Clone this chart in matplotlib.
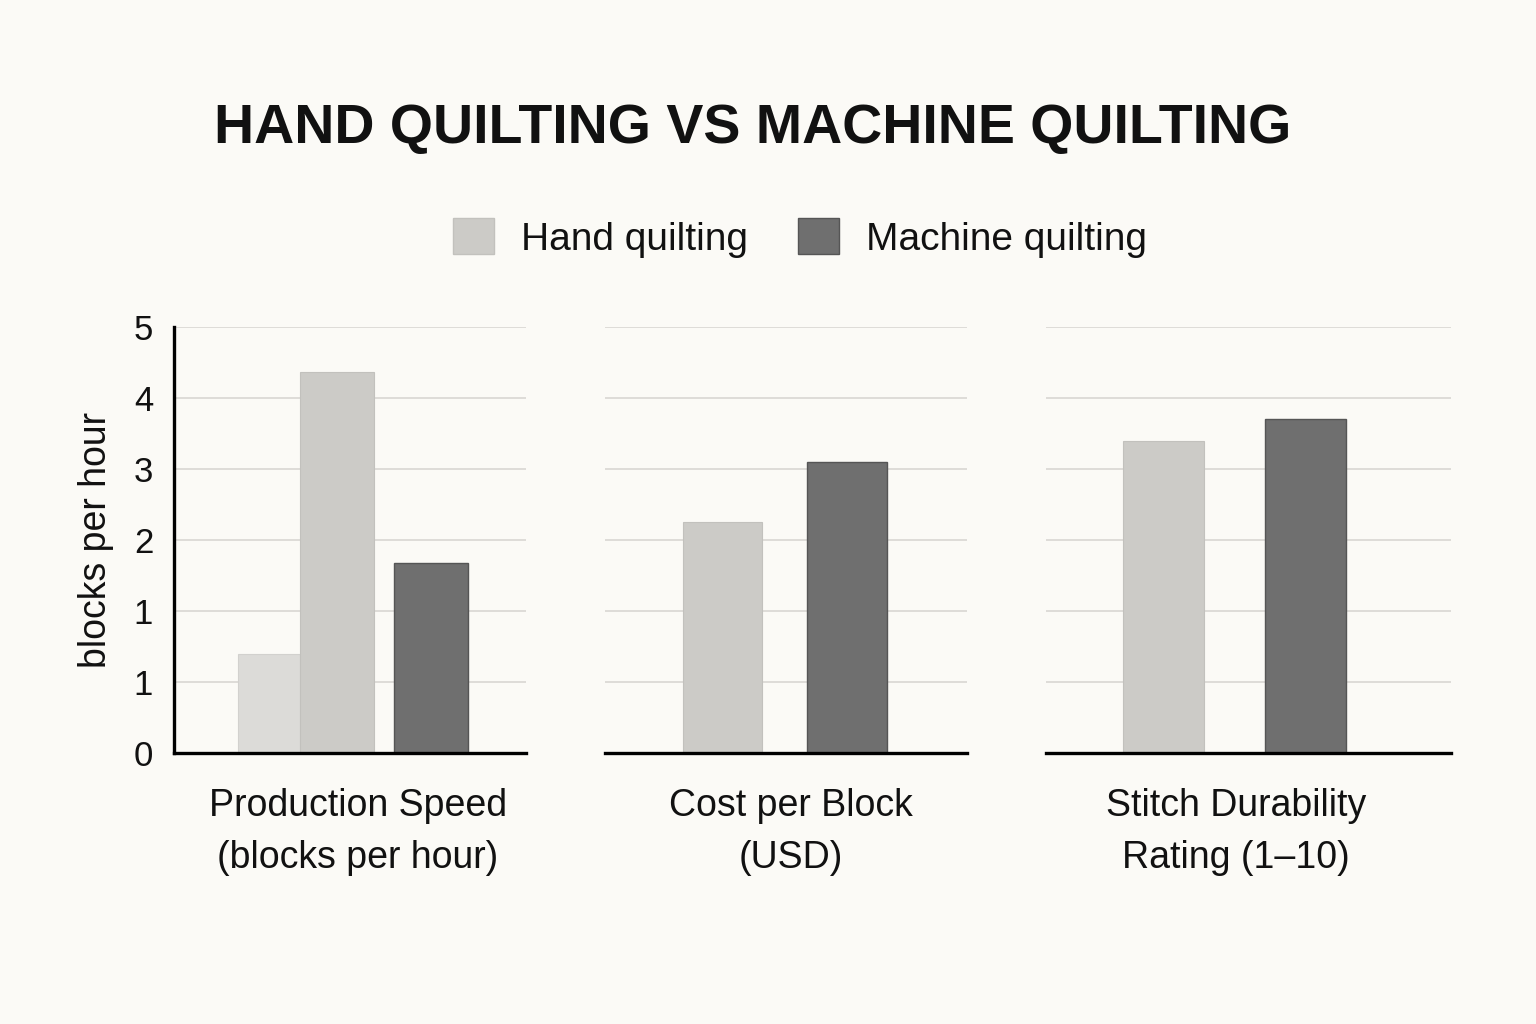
import matplotlib
matplotlib.use("Agg")
import matplotlib.pyplot as plt
from matplotlib.patches import Patch

# values in gridline units (the axis has 6 gridline steps)
speed_hand = [1.39, 5.37]
speed_machine = [2.67]
cost_hand = [3.25]
cost_machine = [4.10]
durability_hand = [4.39]
durability_machine = [4.71]

tick_pos = [0, 1, 2, 3, 4, 5, 6]
tick_labels = ["0", "1", "1", "2", "3", "4", "5"]

panel_names = ["Production Speed\n(blocks per hour)", "Cost per Block\n(USD)",
               "Stitch Durability\nRating (1\u201310)"]
series_names = ["Hand quilting", "Machine quilting"]

bg = "#fbfaf6"
light = "#cccbc7"
lighter = "#dcdbd8"
dark = "#6f6f6f"
grid_c = "#dedcd8"

plt.rcParams["font.family"] = ["Liberation Sans", "DejaVu Sans"]

W, H = 1536, 1024
fig = plt.figure(figsize=(W / 100, H / 100), dpi=100, facecolor=bg)

def make_ax(x0, x1):
    ax = fig.add_axes([x0 / W, 1 - 753 / H, (x1 - x0) / W, 426 / H])
    ax.set_facecolor(bg)
    ax.set_xlim(0, 1)
    ax.set_ylim(0, 6)
    ax.set_yticks(tick_pos)
    ax.grid(axis="y", color=grid_c, lw=1.4)
    ax.set_axisbelow(True)
    ax.set_xticks([])
    for s in ["top", "right", "left"]:
        ax.spines[s].set_visible(False)
    ax.spines["bottom"].set_linewidth(2.4)
    ax.spines["bottom"].set_color("black")
    ax.tick_params(axis="y", length=0, labelleft=False)
    return ax

ax1 = make_ax(174, 526)
ax2 = make_ax(605, 967)
ax3 = make_ax(1046, 1451)

# panel 1
ax1.spines["left"].set_visible(True)
ax1.spines["left"].set_linewidth(2.4)
ax1.spines["left"].set_color("black")
ax1.tick_params(axis="y", labelleft=True, pad=15, labelsize=25, labelcolor="#111111")
ax1.set_yticklabels(tick_labels)
ax1.bar([0.27], speed_hand[:1], width=0.176, color=lighter, edgecolor="#d2d1ce", lw=0.8)
ax1.bar([0.463], speed_hand[1:], width=0.21, color=light, edgecolor="#c2c1bd", lw=0.8)
ax1.bar([0.73], speed_machine, width=0.21, color=dark, edgecolor="#555555", lw=1.0)
ax1.set_ylabel("blocks per hour", fontsize=27, color="#111111", labelpad=14)

# panel 2
ax2.bar([0.325], cost_hand, width=0.22, color=light, edgecolor="#c2c1bd", lw=0.8)
ax2.bar([0.668], cost_machine, width=0.22, color=dark, edgecolor="#555555", lw=1.0)

# panel 3
ax3.bar([0.291], durability_hand, width=0.2, color=light, edgecolor="#c2c1bd", lw=0.8)
ax3.bar([0.64], durability_machine, width=0.2, color=dark, edgecolor="#555555", lw=1.0)

for name, xc in zip(panel_names, [358, 791, 1236]):
    fig.text(xc / W, 1 - 832 / H, name, ha="center", va="center", fontsize=27,
             color="#111111", linespacing=1.55)

fig.text(753 / W, 1 - 129 / H, "HAND QUILTING VS MACHINE QUILTING", ha="center",
         va="center", fontsize=40, fontweight="bold", color="#111111")

handles = [Patch(facecolor=light, edgecolor="#c2c1bd", label=series_names[0]),
           Patch(facecolor=dark, edgecolor="#555555", label=series_names[1])]
fig.legend(handles=handles, loc="center", bbox_to_anchor=(800 / W, 1 - 238 / H),
           ncol=2, frameon=False, fontsize=28, handlelength=1.05, handleheight=1.05,
           handletextpad=0.69, columnspacing=1.31, labelcolor="#111111")

fig.savefig("out.png", dpi=100, facecolor=bg)
